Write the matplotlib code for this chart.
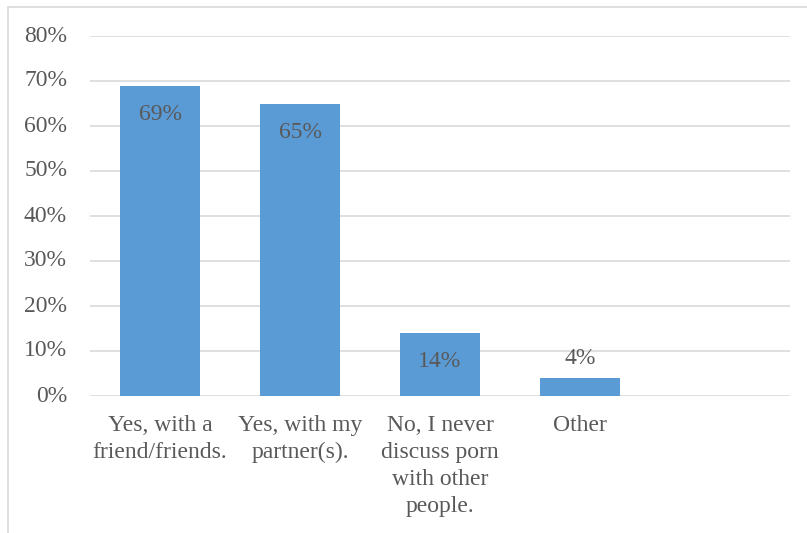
import matplotlib.pyplot as plt
from matplotlib.patches import Rectangle

categories = ['Yes, with a\nfriend/friends.', 'Yes, with my\npartner(s).',
              'No, I never\ndiscuss porn\nwith other\npeople.', 'Other', '']
values = [69, 65, 14, 4, None]
yticks = [0, 10, 20, 30, 40, 50, 60, 70, 80]

text_color = '#595959'
grid_color = '#D9D9D9'
bar_color = '#5B9BD5'

plt.rcParams['font.family'] = ['Liberation Serif', 'DejaVu Serif']

fig = plt.figure(figsize=(8.07, 5.33), dpi=100)
ax = fig.add_axes([90 / 807, 1 - 396 / 533, 700 / 807, 360 / 533])

# outer chart frame
fig.patches.append(Rectangle((8 / 807, -0.05), 1.1, 1 - 7 / 533 + 0.05,
                             transform=fig.transFigure, fill=False,
                             edgecolor=grid_color, linewidth=1.2))

xs = list(range(len(categories)))
for x, v in zip(xs, values):
    if v is None:
        continue
    ax.bar(x, v, width=0.571, color=bar_color, zorder=3)
    if v > 8:
        ax.text(x, v - 6.4, f'{v}%', ha='center', va='center',
                fontsize=17, color=text_color, zorder=4)
    else:
        ax.text(x, v + 4.3, f'{v}%', ha='center', va='center',
                fontsize=17, color=text_color, zorder=4)

ax.set_xlim(-0.5, len(categories) - 0.5)
ax.set_ylim(0, 80)
ax.set_yticks(yticks)
ax.set_yticklabels([f'{t}%' for t in yticks])
ax.set_xticks(xs)
ax.set_xticklabels(categories, linespacing=1.36)

ax.grid(axis='y', color=grid_color, linewidth=1.2, zorder=0)
for s in ax.spines.values():
    s.set_visible(False)
ax.tick_params(axis='both', length=0, labelsize=17, labelcolor=text_color)
ax.tick_params(axis='y', pad=16.5)
ax.tick_params(axis='x', pad=14)
for lab in ax.get_yticklabels():
    lab.set_va('center')

fig.savefig('out.png', dpi=100)
